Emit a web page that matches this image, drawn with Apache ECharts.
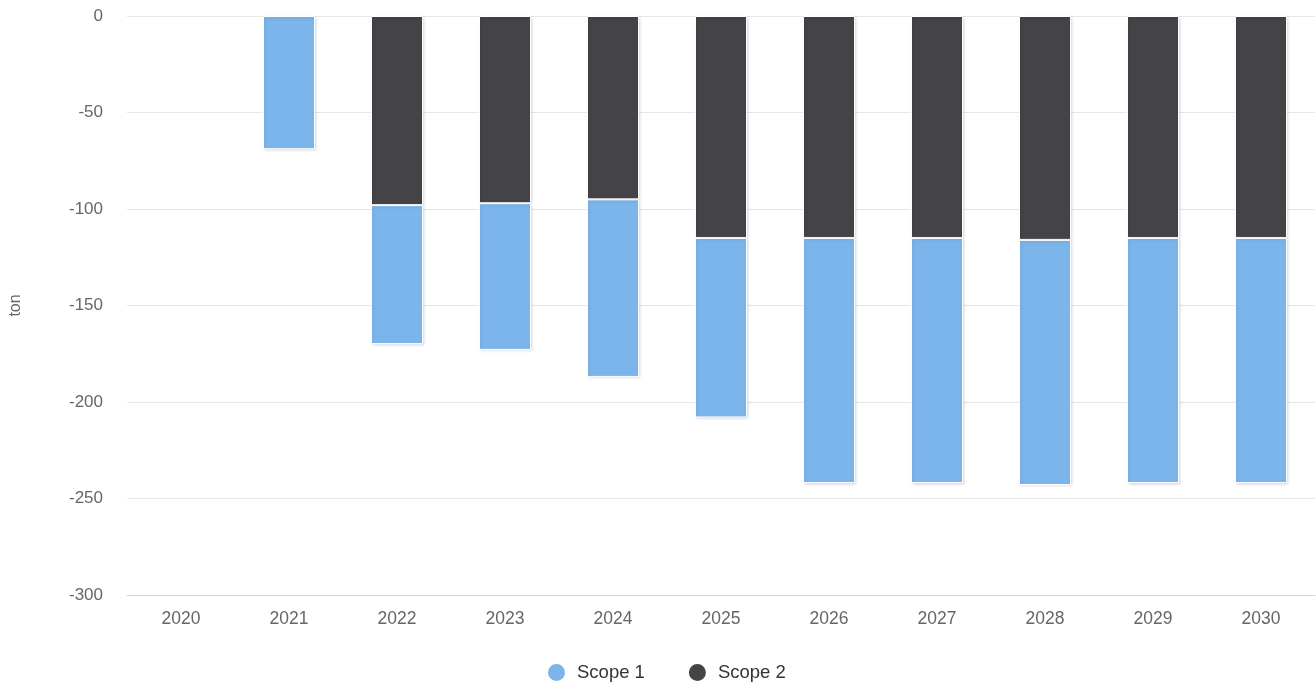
<!DOCTYPE html>
<html>
<head>
<meta charset="utf-8">
<script src="https://cdn.jsdelivr.net/npm/echarts@6/dist/echarts.min.js"></script>
<style>
html,body{margin:0;padding:0;background:#fff;}
#chart{width:1316px;height:684px;}
</style>
</head>
<body>
<div id="chart"></div>
<script>
const categories = ['2020','2021','2022','2023','2024','2025','2026','2027','2028','2029','2030'];
const scope1 = [null, -69, -72, -76, -92, -93, -127, -127, -127, -127, -127];
const scope2 = [null, null, -98, -97, -95, -115, -115, -115, -116, -115, -115];
const yTicks = { min: -300, max: 0, interval: 50 };

const chart = echarts.init(document.getElementById('chart'));
const barStyle = (color) => ({
  color: color,
  borderColor: '#ffffff',
  borderWidth: 1,
  shadowColor: 'rgba(0,0,0,0.15)',
  shadowBlur: 3,
  shadowOffsetX: 1,
  shadowOffsetY: 1
});
chart.setOption({
  animation: false,
  textStyle: { fontFamily: 'Liberation Sans, Arial, sans-serif' },
  grid: { left: 124, right: 1, top: 16, bottom: 89, containLabel: false },
  legend: {
    data: ['Scope 1', 'Scope 2'],
    left: 546, top: 662,
    padding: 0,
    icon: 'circle',
    itemWidth: 19, itemHeight: 19,
    itemGap: 42,
    textStyle: { fontSize: 18.5, color: '#333333', padding: [0, 0, 0, 6] }
  },
  xAxis: {
    type: 'category',
    data: categories,
    position: 'bottom',
    z: 5,
    axisLine: { onZero: false, lineStyle: { color: '#ccd6eb', width: 1 } },
    axisTick: { show: false },
    axisLabel: { color: '#666666', fontSize: 17.5, margin: 15 },
    splitLine: { show: false }
  },
  yAxis: {
    type: 'value',
    min: yTicks.min, max: yTicks.max, interval: yTicks.interval,
    name: 'ton',
    nameLocation: 'middle',
    nameGap: 103,
    nameTextStyle: { color: '#666666', fontSize: 16 },
    axisLine: { show: false },
    axisTick: { show: false },
    axisLabel: { color: '#666666', fontSize: 17, margin: 24 },
    splitLine: { lineStyle: { color: '#e6e6e6', width: 1 } }
  },
  series: [
    { name: 'Scope 2', type: 'bar', stack: 'total', data: scope2, barWidth: 52, itemStyle: barStyle('#434348') },
    { name: 'Scope 1', type: 'bar', stack: 'total', data: scope1, barWidth: 52, itemStyle: barStyle('#7cb5ec') }
  ]
});
</script>
</body>
</html>
